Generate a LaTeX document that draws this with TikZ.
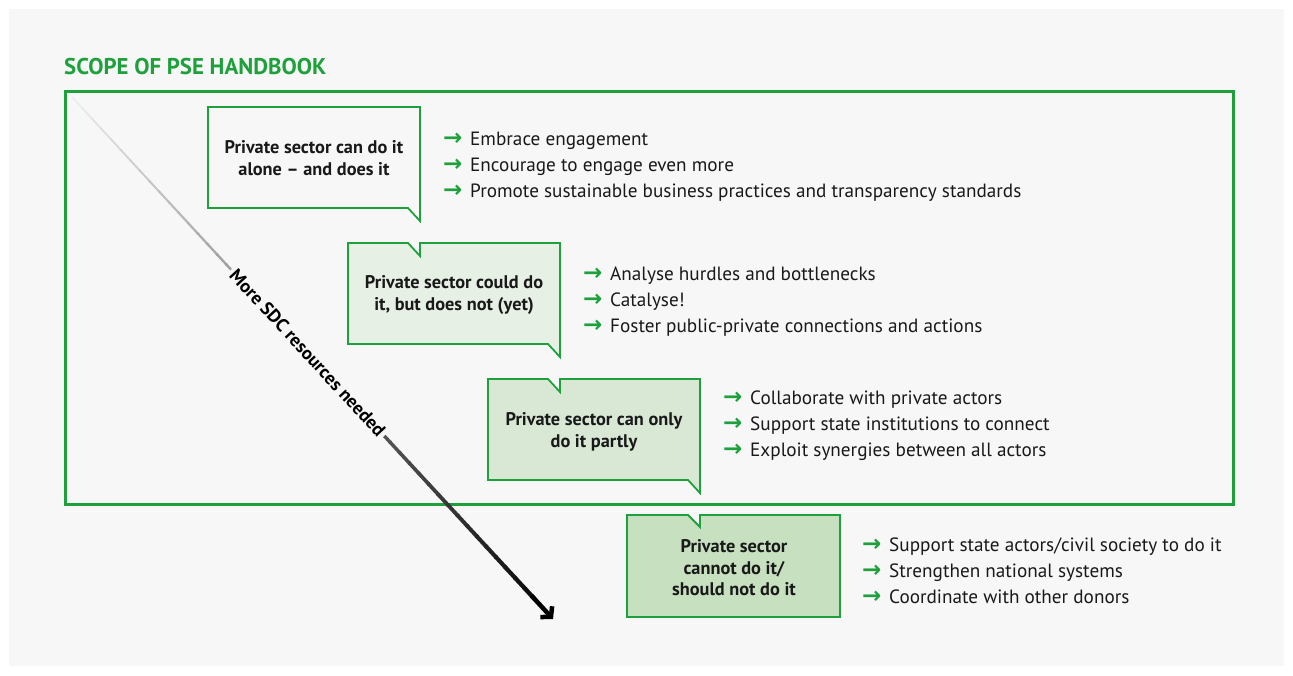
\documentclass[tikz,border=0pt]{standalone}
\usepackage{fontspec}
\setmainfont{PT Sans}
\newfontfamily\arrowfont{DejaVu Sans}
\usepackage{xcolor}
\definecolor{psegreen}{RGB}{30,160,60}
\definecolor{psebg}{RGB}{247,247,247}
\definecolor{psefillb}{RGB}{231,240,229}
\definecolor{psefillc}{RGB}{217,232,213}
\definecolor{psefilld}{RGB}{198,224,192}
\usetikzlibrary{calc,positioning,arrows.meta}

\tikzset{
    bubble/.style={draw=psegreen, line width=1.8pt, line join=miter},
    boxtext/.style={font=\bfseries\fontsize{18.3}{21.5}\selectfont, align=center, text=black!90},
    todo/.style={anchor=base west, inner sep=0pt, text=black!90, font=\fontsize{19.2}{26}\selectfont}
}
\newcommand{\todoarrow}{\makebox[27pt][l]{\arrowfont\bfseries\color{psegreen}\fontsize{23}{23}\selectfont →}}

\begin{document}
\begin{tikzpicture}[x=1pt,y=-1pt]
    % Canvas
    \useasboundingbox (0,0) rectangle (1293,675);
    \fill[white] (0,0) rectangle (1293,675);
    \fill[psebg] (9,9) rectangle (1284,666);

    % Scope of the handbook
    \node[anchor=base west, inner sep=0pt, text=psegreen, font=\bfseries\fontsize{22.8}{22.8}\selectfont] (title) at (64,74) {SCOPE OF PSE HANDBOOK};
    \draw[psegreen, line width=3pt] (65,91) rectangle (1233,504);

    % Resources arrow
    \coordinate (sdcstart) at (72,97);
    \coordinate (sdcend) at (553,619);
    \foreach \i in {0,...,47} {
        \pgfmathsetmacro{\ta}{\i/50}
        \pgfmathsetmacro{\tb}{(\i+1.15)/50}
        \pgfmathsetmacro{\shadeval}{8+92*\i/50}
        \pgfmathsetmacro{\wd}{1.5+3*\i/50}
        \draw[line width=\wd pt, black!\shadeval] ($(sdcstart)!\ta!(sdcend)$) -- ($(sdcstart)!\tb!(sdcend)$);
    }
    \draw[line width=4.5pt, black, -{Straight Barb[length=7pt,width=16pt]}] ($(sdcstart)!0.955!(sdcend)$) -- (sdcend);
    \node[rotate=-47.35, fill=psebg, inner sep=3pt, font=\bfseries\fontsize{18.5}{18.5}\selectfont] (sdclabel) at ($(sdcstart)!0.49!(sdcend)$) {More SDC resources needed};

    % Bubbles
    \draw[bubble, fill=psebg] (208,107) -- (420,107) -- (420,221) -- (408,208) -- (208,208) -- cycle;
    \draw[bubble, fill=psefillb] (348,243) -- (408,243) -- (420,256) -- (420,243) -- (560,243) -- (560,357) -- (548,344) -- (348,344) -- cycle;
    \draw[bubble, fill=psefillc] (488,379) -- (548,379) -- (560,392) -- (560,379) -- (700,379) -- (700,493) -- (688,480) -- (488,480) -- cycle;
    \draw[bubble, fill=psefilld] (627,515) -- (688,515) -- (700,527) -- (700,515) -- (840,515) -- (840,617) -- (627,617) -- cycle;

    \node[boxtext] (alone) at (314,158) {Private sector can do it\\alone -- and does it};
    \node[boxtext] (could) at (454,295) {Private sector could do\\it, but does not (yet)};
    \node[boxtext] (partly) at (594,432) {Private sector can only\\do it partly};
    \node[boxtext] (cannot) at (734,568) {Private sector\\cannot do it/\\should not do it};

    % What to do
    \node[todo] (alone1) at (443,145) {\todoarrow Embrace engagement};
    \node[todo] (alone2) at (443,171) {\todoarrow Encourage to engage even more};
    \node[todo] (alone3) at (443,197) {\todoarrow Promote sustainable business practices and transparency standards};

    \node[todo] (could1) at (583,280) {\todoarrow Analyse hurdles and bottlenecks};
    \node[todo] (could2) at (583,306) {\todoarrow Catalyse!};
    \node[todo] (could3) at (583,332) {\todoarrow Foster public-private connections and actions};

    \node[todo] (partly1) at (723,404) {\todoarrow Collaborate with private actors};
    \node[todo] (partly2) at (723,430) {\todoarrow Support state institutions to connect};
    \node[todo] (partly3) at (723,456) {\todoarrow Exploit synergies between all actors};

    \node[todo] (cannot1) at (862,551) {\todoarrow Support state actors/civil society to do it};
    \node[todo] (cannot2) at (862,577) {\todoarrow Strengthen national systems};
    \node[todo] (cannot3) at (862,603) {\todoarrow Coordinate with other donors};
\end{tikzpicture}
\end{document}
